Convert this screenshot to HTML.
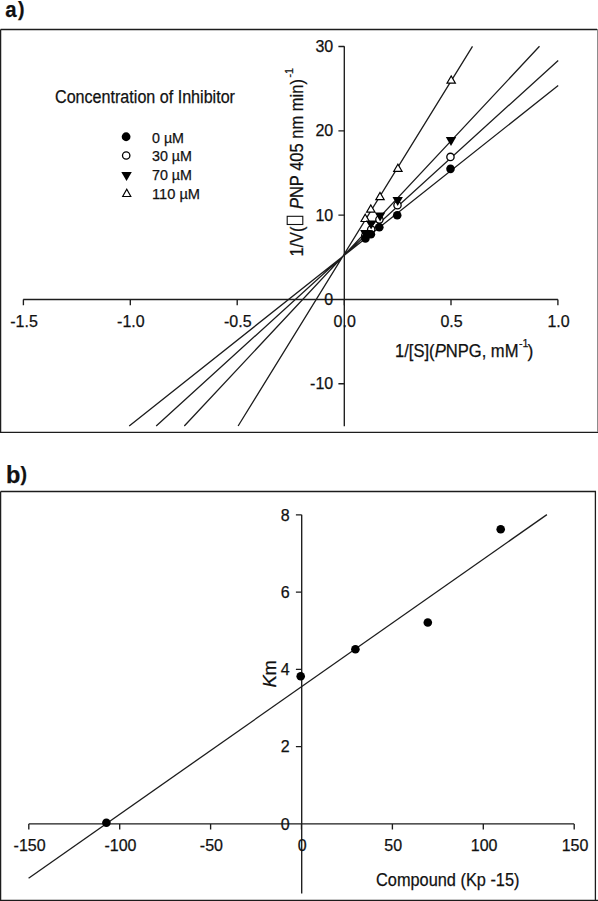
<!DOCTYPE html><html><head><meta charset="utf-8"><style>html,body{margin:0;padding:0;background:#fff;}svg{display:block;}text{font-family:"Liberation Sans",sans-serif;fill:#111;stroke:#111;stroke-width:0.25px;}</style></head><body>
<svg width="598" height="901" viewBox="0 0 598 901">
<rect width="598" height="901" fill="#fff"/>
<g font-weight="bold" stroke="#111" stroke-width="0.5">
<text x="5.3" y="16.6" font-size="22.5" textLength="11.3" lengthAdjust="spacingAndGlyphs">a</text>
<text x="18.0" y="15.8" font-size="19.5">)</text>
<text x="6.0" y="483.2" font-size="23.5">b</text>
<text x="20.4" y="480.9" font-size="19.5">)</text>
</g>
<g fill="none" stroke="#1c1c1c" stroke-width="1.3">
<path d="M0.6,29.5 H597 M0.6,29.5 V432.4 M0,432.4 H598"/>
<path d="M0.6,491.5 H595.4 V901 M0.6,491.5 V901 M0,900.3 H598"/>
</g>
<rect x="597" y="29" width="1" height="403" fill="#8c8c8c"/>
<path d="M344.3,46.3 V426.2 M338.4,46.50 H344.3 M338.4,130.80 H344.3 M338.4,215.10 H344.3 M338.4,299.40 H344.3 M338.4,383.70 H344.3 M23.2,299.5 H557.9 M23.40,299.5 V305.2 M130.30,299.5 V305.2 M237.20,299.5 V305.2 M344.10,299.5 V305.2 M451.00,299.5 V305.2 M557.90,299.5 V305.2" stroke="#1c1c1c" stroke-width="1.35" fill="none"/>
<text x="333.2" y="51.90" font-size="16" text-anchor="end">30</text>
<text x="333.2" y="136.20" font-size="16" text-anchor="end">20</text>
<text x="333.2" y="220.50" font-size="16" text-anchor="end">10</text>
<text x="333.2" y="304.80" font-size="16" text-anchor="end">0</text>
<text x="333.2" y="389.10" font-size="16" text-anchor="end">-10</text>
<text x="24.00" y="326.9" font-size="16" text-anchor="middle">-1.5</text>
<text x="130.90" y="326.9" font-size="16" text-anchor="middle">-1.0</text>
<text x="237.80" y="326.9" font-size="16" text-anchor="middle">-0.5</text>
<text x="344.70" y="326.9" font-size="16" text-anchor="middle">0.0</text>
<text x="451.60" y="326.9" font-size="16" text-anchor="middle">0.5</text>
<text x="558.50" y="326.9" font-size="16" text-anchor="middle">1.0</text>
<path d="M129.2,426.0 L558.2,85.5 M156.2,426.0 L558.2,60.4 M184.3,426.0 L539.5,46.3 M238.1,426.0 L472.5,46.3" stroke="#1c1c1c" stroke-width="1.3" fill="none"/>
<polygon points="360.99,221.52 369.41,221.52 365.20,214.25" fill="#fff" stroke="#000" stroke-width="1.15" stroke-linejoin="miter"/>
<polygon points="366.59,212.12 375.01,212.12 370.80,204.85" fill="#fff" stroke="#000" stroke-width="1.15" stroke-linejoin="miter"/>
<polygon points="375.79,199.62 384.21,199.62 380.00,192.35" fill="#fff" stroke="#000" stroke-width="1.15" stroke-linejoin="miter"/>
<polygon points="393.69,171.42 402.11,171.42 397.90,164.15" fill="#fff" stroke="#000" stroke-width="1.15" stroke-linejoin="miter"/>
<polygon points="446.99,83.12 455.41,83.12 451.20,75.85" fill="#fff" stroke="#000" stroke-width="1.15" stroke-linejoin="miter"/>
<circle cx="365.30" cy="235.60" r="3.65" fill="#fff" stroke="#000" stroke-width="1.3"/>
<circle cx="371.20" cy="229.60" r="3.65" fill="#fff" stroke="#000" stroke-width="1.3"/>
<circle cx="379.40" cy="219.60" r="3.65" fill="#fff" stroke="#000" stroke-width="1.3"/>
<circle cx="397.50" cy="205.30" r="3.65" fill="#fff" stroke="#000" stroke-width="1.3"/>
<circle cx="450.45" cy="156.90" r="3.65" fill="#fff" stroke="#000" stroke-width="1.3"/>
<polygon points="360.10,230.10 370.50,230.10 365.30,239.10" fill="#000"/>
<polygon points="365.90,220.60 376.30,220.60 371.10,229.60" fill="#000"/>
<polygon points="374.90,212.60 385.30,212.60 380.10,221.60" fill="#000"/>
<polygon points="392.50,196.90 402.90,196.90 397.70,205.90" fill="#000"/>
<polygon points="445.80,137.00 456.20,137.00 451.00,146.00" fill="#000"/>
<circle cx="365.40" cy="238.40" r="4.30" fill="#000"/>
<circle cx="370.90" cy="234.20" r="4.30" fill="#000"/>
<circle cx="379.30" cy="227.20" r="4.30" fill="#000"/>
<circle cx="397.20" cy="215.30" r="4.30" fill="#000"/>
<circle cx="450.50" cy="168.85" r="4.30" fill="#000"/>
<text x="55" y="103.1" font-size="17.5" textLength="180" lengthAdjust="spacingAndGlyphs">Concentration of Inhibitor</text>
<circle cx="126.10" cy="136.75" r="4.40" fill="#000"/>
<circle cx="126.20" cy="155.50" r="3.70" fill="#fff" stroke="#000" stroke-width="1.3"/>
<polygon points="121.30,171.88 131.80,171.88 126.55,180.93" fill="#000"/>
<polygon points="122.69,196.52 130.81,196.52 126.75,189.25" fill="#fff" stroke="#000" stroke-width="1.15" stroke-linejoin="miter"/>
<text x="152" y="142.7" font-size="15" textLength="32" lengthAdjust="spacingAndGlyphs">0 µM</text>
<text x="152" y="161.1" font-size="15" textLength="40" lengthAdjust="spacingAndGlyphs">30 µM</text>
<text x="152" y="180.4" font-size="15" textLength="40" lengthAdjust="spacingAndGlyphs">70 µM</text>
<text x="152" y="198.6" font-size="15" textLength="48" lengthAdjust="spacingAndGlyphs">110 µM</text>
<text x="395" y="356.7" font-size="17.5" textLength="123.5" lengthAdjust="spacingAndGlyphs">1/[S](<tspan font-style="italic">P</tspan>NPG, mM</text>
<text x="519" y="347.3" font-size="11.5" textLength="9.5" lengthAdjust="spacingAndGlyphs">-1</text>
<text x="527.5" y="356.7" font-size="17.5">)</text>
<g transform="translate(302.8,256.6) rotate(-90)">
<text x="0" y="0" font-size="17.5" textLength="30" lengthAdjust="spacingAndGlyphs">1/V(</text>
<rect x="32.1" y="-15.6" width="8.2" height="15.6" fill="none" stroke="#111" stroke-width="1.1"/>
<text x="47.5" y="0" font-size="17.5" textLength="130" lengthAdjust="spacingAndGlyphs"><tspan font-style="italic">P</tspan>NP 405 nm min)</text>
<text x="179" y="-9.5" font-size="11.5" textLength="9.6" lengthAdjust="spacingAndGlyphs">-1</text>
</g>
<path d="M301.7,514.8 V893.6 M295.9,514.80 H301.7 M295.9,592.05 H301.7 M295.9,669.30 H301.7 M295.9,746.55 H301.7 M295.9,823.80 H301.7 M28.7,823.9 H574.2 M28.80,823.9 V829.6 M119.70,823.9 V829.6 M210.60,823.9 V829.6 M301.50,823.9 V829.6 M392.40,823.9 V829.6 M483.30,823.9 V829.6 M574.20,823.9 V829.6" stroke="#1c1c1c" stroke-width="1.35" fill="none"/>
<text x="289.6" y="520.50" font-size="16" text-anchor="end">8</text>
<text x="289.6" y="597.75" font-size="16" text-anchor="end">6</text>
<text x="289.6" y="675.00" font-size="16" text-anchor="end">4</text>
<text x="289.6" y="752.25" font-size="16" text-anchor="end">2</text>
<text x="289.6" y="829.50" font-size="16" text-anchor="end">0</text>
<text x="29.60" y="850.8" font-size="16" text-anchor="middle">-150</text>
<text x="120.50" y="850.8" font-size="16" text-anchor="middle">-100</text>
<text x="211.40" y="850.8" font-size="16" text-anchor="middle">-50</text>
<text x="302.30" y="850.8" font-size="16" text-anchor="middle">0</text>
<text x="393.20" y="850.8" font-size="16" text-anchor="middle">50</text>
<text x="484.10" y="850.8" font-size="16" text-anchor="middle">100</text>
<text x="575.00" y="850.8" font-size="16" text-anchor="middle">150</text>
<path d="M28.6,878.2 L546.9,514.6" stroke="#1c1c1c" stroke-width="1.3"/>
<circle cx="106.40" cy="822.80" r="4.30" fill="#000"/>
<circle cx="300.70" cy="676.30" r="4.30" fill="#000"/>
<circle cx="355.40" cy="649.30" r="4.30" fill="#000"/>
<circle cx="427.80" cy="622.50" r="4.30" fill="#000"/>
<circle cx="500.70" cy="529.30" r="4.30" fill="#000"/>
<g transform="translate(275.6,687.6) rotate(-90)"><text x="0" y="0" font-size="18.5" textLength="27.5" lengthAdjust="spacingAndGlyphs"><tspan font-style="italic">K</tspan>m</text></g>
<text x="376" y="885.9" font-size="18.5" textLength="143.5" lengthAdjust="spacingAndGlyphs">Compound (Kp -15)</text>
</svg></body></html>
